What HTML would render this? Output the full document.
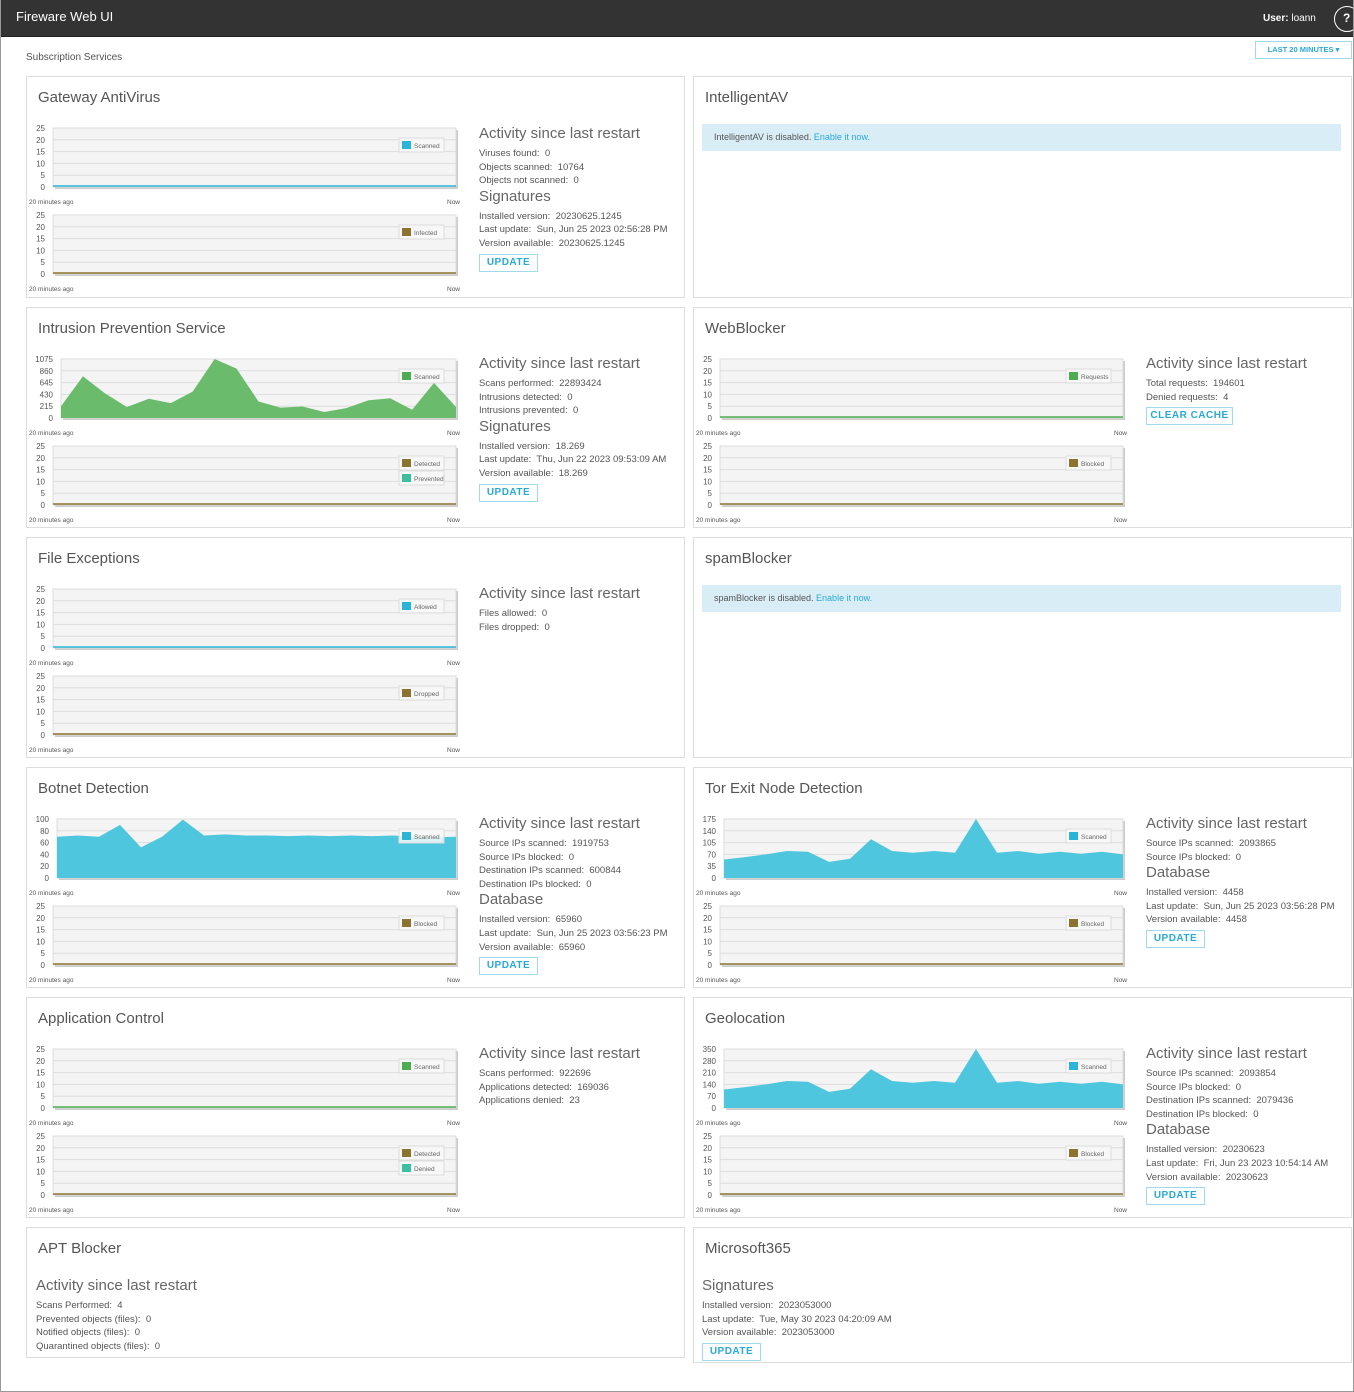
<!DOCTYPE html>
<html><head><meta charset="utf-8">
<style>
*{margin:0;padding:0;box-sizing:border-box}
body{width:1354px;height:1392px;background:#fff;font-family:"Liberation Sans",sans-serif;color:#555;position:relative;overflow:hidden}
#frame{position:absolute;left:0;top:0;width:1354px;height:1392px;border:1px solid #999;border-top:none}
.hdr{position:absolute;left:0;top:0;width:1354px;height:37px;background:#333;border-bottom:1px solid #222}
.a{position:absolute;white-space:nowrap}
.panel{position:absolute;border:1px solid #ddd;background:#fff}
.ttl{font-size:15px;color:#555}
.h2{font-size:15px;color:#666}
.ln{font-size:9.5px;color:#555}
.btn{position:absolute;border:1px solid #9fd9ec;color:#29a9d6;font-size:10px;font-weight:bold;text-align:center;line-height:16px;letter-spacing:.5px}
.dis{position:absolute;background:#d9edf7;font-size:9px;color:#555;line-height:27px;padding-left:12px}
.dis span{color:#29a9d6}
</style></head><body>
<div class="hdr"></div>
<div class="a" style="left:16px;top:9px;font-size:13px;color:#fff">Fireware Web UI</div>
<div class="a" style="left:1263px;top:13px;font-size:10px;color:#fff"><b>User:</b> loann</div>
<div class="a" style="left:1334px;top:6px;width:26px;height:26px;border:1.5px solid #fff;border-radius:50%;color:#fff;font-size:12px;font-weight:bold;line-height:23px;padding-left:8px">?</div>
<div class="a" style="left:26px;top:52px;font-size:10px;color:#555">Subscription Services</div>
<div class="a" style="left:1255px;top:41px;width:97px;height:18px;border:1px solid #9fd9ec;color:#29a9d6;font-size:7.5px;font-weight:bold;line-height:16px;text-align:center">LAST 20 MINUTES ▾</div>
<div id="root"></div>
<div id="frame"></div>
<script>
var R=document.getElementById('root'),H='';
function t(x,y,c,txt){H+='<div class="a '+c+'" style="left:'+x+'px;top:'+y+'px">'+txt+'</div>';}
var C={cy:'#2ab5d8',br:'#8c7430',te:'#3cbf9c',gr:'#4cae50'};
function chart(x,y,labels,leg,data,fill,pl){
 pl=pl||27;var px=x+pl,pw=x+430-px,ph=59;
 var s='<svg class="a" style="left:'+(x)+'px;top:'+(y-6)+'px" width="440" height="90">';
 var ox=pl,oy=6;
 s+='<rect x="'+(ox+2)+'" y="'+(oy+2)+'" width="'+pw+'" height="'+ph+'" fill="#ccc"/>';
 s+='<rect x="'+ox+'" y="'+oy+'" width="'+pw+'" height="'+ph+'" fill="#f4f4f4" stroke="#ddd"/>';
 for(var i=0;i<6;i++){var gy=oy+ph-i*ph/5;s+='<line x1="'+ox+'" x2="'+(ox+pw)+'" y1="'+gy+'" y2="'+gy+'" stroke="#ddd"/>';
  s+='<text x="'+(ox-8)+'" y="'+(gy+3)+'" font-size="8" fill="#555" text-anchor="end" font-family="Liberation Sans">'+labels[i]+'</text>';}
 if(data){var mx=parseFloat(labels[5]),pts=ox+','+(oy+ph);
  for(var j=0;j<data.length;j++){pts+=' '+(ox+j*pw/(data.length-1))+','+(oy+ph-data[j]/mx*ph);}
  pts+=' '+(ox+pw)+','+(oy+ph);s+='<polygon points="'+pts+'" fill="'+fill+'"/>';}
 else s+='<line x1="'+ox+'" x2="'+(ox+pw)+'" y1="'+(oy+ph-1)+'" y2="'+(oy+ph-1)+'" stroke="'+C[leg[0][1]]+'" stroke-width="1.5"/>';
 for(var k=0;k<leg.length;k++){var lx=ox+pw-57,ly=oy+10+k*15;
  s+='<rect x="'+lx+'" y="'+ly+'" width="45" height="14" fill="#f8f8f8" fill-opacity=".85" stroke="#ddd"/>';
  s+='<rect x="'+(lx+3)+'" y="'+(ly+3)+'" width="9" height="8" fill="'+C[leg[k][1]]+'"/>';
  s+='<text x="'+(lx+15)+'" y="'+(ly+10)+'" font-size="6.5" fill="#666" font-family="Liberation Sans">'+leg[k][0]+'</text>';}
 s+='<text x="3" y="'+(oy+ph+17)+'" font-size="6.5" fill="#555" font-family="Liberation Sans">20 minutes ago</text>';
 s+='<text x="421" y="'+(oy+ph+17)+'" font-size="6.5" fill="#555" font-family="Liberation Sans">Now</text>';
 H+=s+'</svg>';}
var L25=['0','5','10','15','20','25'];
function panel(x,y,h,title){H+='<div class="panel" style="left:'+x+'px;top:'+y+'px;width:659px;height:'+h+'px"></div>';t(x+12,y+13,'ttl',title);}
function info(x,y,blocks){var cy=y+1;for(var b of blocks){if(b.h){t(x,cy,'h2',b.h);cy+=23;}
 for(var l of (b.l||[])){t(x,cy,'ln',l);cy+=13.6;} if(b.btn){H+='<div class="btn" style="left:'+x+'px;top:'+(cy+2)+'px;width:'+b.w+'px;height:18px">'+b.btn+'</div>';cy+=22;} cy+=-1;}}
// Row1
panel(26,76,222,'Gateway AntiVirus');
chart(26,128,L25,[['Scanned','cy']]);chart(26,215,L25,[['Infected','br']]);
info(479,124,[{h:'Activity since last restart',l:['Viruses found:&nbsp; 0','Objects scanned:&nbsp; 10764','Objects not scanned:&nbsp; 0']},{h:'Signatures',l:['Installed version:&nbsp; 20230625.1245','Last update:&nbsp; Sun, Jun 25 2023 02:56:28 PM','Version available:&nbsp; 20230625.1245'],btn:'UPDATE',w:59}]);
panel(693,76,222,'IntelligentAV');
H+='<div class="dis" style="left:702px;top:124px;width:639px;height:27px">IntelligentAV is disabled. <span>Enable it now.</span></div>';
// Row2
panel(26,307,221,'Intrusion Prevention Service');
chart(26,359,['0','215','430','645','860','1075'],[['Scanned','gr']],[215,760,450,200,350,270,480,1075,900,300,190,210,110,180,320,360,150,640,200],'#6abb6c',35);
chart(26,446,L25,[['Detected','br'],['Prevented','te']]);
info(479,354,[{h:'Activity since last restart',l:['Scans performed:&nbsp; 22893424','Intrusions detected:&nbsp; 0','Intrusions prevented:&nbsp; 0']},{h:'Signatures',l:['Installed version:&nbsp; 18.269','Last update:&nbsp; Thu, Jun 22 2023 09:53:09 AM','Version available:&nbsp; 18.269'],btn:'UPDATE',w:59}]);
panel(693,307,221,'WebBlocker');
chart(693,359,L25,[['Requests','gr']]);chart(693,446,L25,[['Blocked','br']]);
info(1146,354,[{h:'Activity since last restart',l:['Total requests:&nbsp; 194601','Denied requests:&nbsp; 4'],btn:'CLEAR CACHE',w:87}]);
// Row3
panel(26,537,221,'File Exceptions');
chart(26,589,L25,[['Allowed','cy']]);chart(26,676,L25,[['Dropped','br']]);
info(479,584,[{h:'Activity since last restart',l:['Files allowed:&nbsp; 0','Files dropped:&nbsp; 0']}]);
panel(693,537,221,'spamBlocker');
H+='<div class="dis" style="left:702px;top:585px;width:639px;height:27px">spamBlocker is disabled. <span>Enable it now.</span></div>';
// Row4
panel(26,767,221,'Botnet Detection');
chart(26,819,['0','20','40','60','80','100'],[['Scanned','cy']],[70,72,70,90,52,70,99,72,74,72,72,71,72,71,72,71,72,70,69,70],'#4ec6de',31);
chart(26,906,L25,[['Blocked','br']]);
info(479,814,[{h:'Activity since last restart',l:['Source IPs scanned:&nbsp; 1919753','Source IPs blocked:&nbsp; 0','Destination IPs scanned:&nbsp; 600844','Destination IPs blocked:&nbsp; 0']},{h:'Database',l:['Installed version:&nbsp; 65960','Last update:&nbsp; Sun, Jun 25 2023 03:56:23 PM','Version available:&nbsp; 65960'],btn:'UPDATE',w:59}]);
panel(693,767,221,'Tor Exit Node Detection');
var tor=[55,62,70,80,78,48,57,115,80,75,80,75,175,75,80,72,78,72,78,70];
chart(693,819,['0','35','70','105','140','175'],[['Scanned','cy']],tor,'#4ec6de',31);
chart(693,906,L25,[['Blocked','br']]);
info(1146,814,[{h:'Activity since last restart',l:['Source IPs scanned:&nbsp; 2093865','Source IPs blocked:&nbsp; 0']},{h:'Database',l:['Installed version:&nbsp; 4458','Last update:&nbsp; Sun, Jun 25 2023 03:56:28 PM','Version available:&nbsp; 4458'],btn:'UPDATE',w:59}]);
// Row5
panel(26,997,221,'Application Control');
chart(26,1049,L25,[['Scanned','gr']]);chart(26,1136,L25,[['Detected','br'],['Denied','te']]);
info(479,1044,[{h:'Activity since last restart',l:['Scans performed:&nbsp; 922696','Applications detected:&nbsp; 169036','Applications denied:&nbsp; 23']}]);
panel(693,997,221,'Geolocation');
chart(693,1049,['0','70','140','210','280','350'],[['Scanned','cy']],tor.map(function(v){return v*2}),'#4ec6de',31);
chart(693,1136,L25,[['Blocked','br']]);
info(1146,1044,[{h:'Activity since last restart',l:['Source IPs scanned:&nbsp; 2093854','Source IPs blocked:&nbsp; 0','Destination IPs scanned:&nbsp; 2079436','Destination IPs blocked:&nbsp; 0']},{h:'Database',l:['Installed version:&nbsp; 20230623','Last update:&nbsp; Fri, Jun 23 2023 10:54:14 AM','Version available:&nbsp; 20230623'],btn:'UPDATE',w:59}]);
// Row6
H+='<div class="panel" style="left:26px;top:1227px;width:659px;height:131px"></div>';t(38,1240,'ttl','APT Blocker');
info(36,1276,[{h:'Activity since last restart',l:['Scans Performed:&nbsp; 4','Prevented objects (files):&nbsp; 0','Notified objects (files):&nbsp; 0','Quarantined objects (files):&nbsp; 0']}]);
H+='<div class="panel" style="left:693px;top:1227px;width:659px;height:136px"></div>';t(705,1240,'ttl','Microsoft365');
info(702,1276,[{h:'Signatures',l:['Installed version:&nbsp; 2023053000','Last update:&nbsp; Tue, May 30 2023 04:20:09 AM','Version available:&nbsp; 2023053000'],btn:'UPDATE',w:59}]);
R.innerHTML=H;
</script>
</body></html>
